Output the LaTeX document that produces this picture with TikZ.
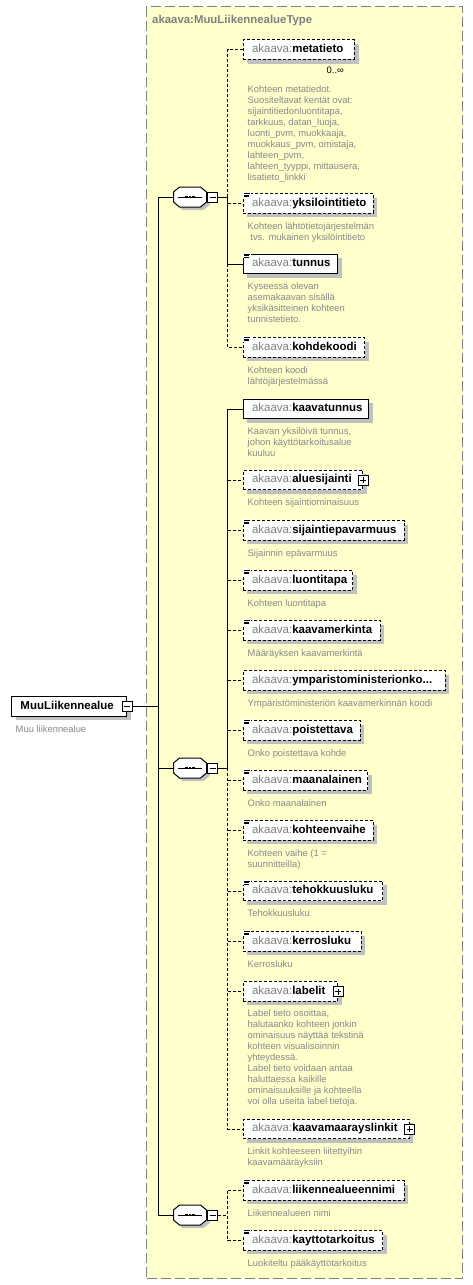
\documentclass[tikz,border=0pt]{standalone}
\usepackage{fontspec}
\setmainfont{Liberation Sans}
\usetikzlibrary{shadows,calc}
\definecolor{pfxgray}{HTML}{808080}
\definecolor{descgray}{HTML}{888888}
\definecolor{shadowgray}{HTML}{C0C0C0}
\definecolor{typefill}{HTML}{FFFFCC}
\definecolor{typeborder}{HTML}{808080}
\newcommand\elt[2]{\makebox[#1pt][l]{\hspace{9pt}\rule[-3pt]{0pt}{11pt}\textcolor{pfxgray}{akaava:}\textbf{#2}}}
\newcommand\docicon[1]{%
  \fill[white] ($(#1.north west)+(-0.6,-1)$) rectangle ($(#1.north west)+(8,4.6)$);
  \draw[line width=0.8pt] ($(#1.north west)+(1.5,0.4)$) -- ++(6,0);
  \draw[line width=0.8pt] ($(#1.north west)+(1.5,1.9)$) -- ++(5,0);
  \draw[line width=0.8pt] ($(#1.north west)+(1.5,3.4)$) -- ++(5,0);
}
\tikzset{
  elembase/.style={rectangle, inner sep=0pt, minimum height=19.5pt, anchor=west, fill=white,
    line width=1pt, font=\fontsize{11.5}{13}\selectfont,
    drop shadow={shadow xshift=4pt, shadow yshift=-4pt, fill=shadowgray, opacity=1}},
  reqbox/.style={elembase, draw=black},
  optbox/.style={elembase, draw=black, dash pattern=on 3pt off 2pt},
  desc/.style={anchor=north west, inner sep=0pt, align=left, text=descgray,
    font=\fontsize{9.4}{11}\selectfont},
  conn/.style={line width=1pt},
  optconn/.style={line width=1pt, dash pattern=on 3pt off 2pt},
  seqanchor/.style={rectangle, inner sep=0pt, minimum width=33pt, minimum height=20pt},
  seqoct/.pic={
    \fill[shadowgray] (-13.5,-2) -- (-7.5,-7) -- (13.5,-7) -- (19.5,-2) -- (19.5,8) -- (13.5,13) -- (-7.5,13) -- (-13.5,8) -- cycle;
    \draw[line width=1pt, fill=white] (-16.5,-5) -- (-10.5,-10) -- (10.5,-10) -- (16.5,-5) -- (16.5,5) -- (10.5,10) -- (-10.5,10) -- (-16.5,5) -- cycle;
    \draw[line width=1pt] (-11.7,0) -- (11.7,0);
    \fill (-4.7,-1.3) rectangle (-2.3,1.3);
    \fill (-1.2,-1.3) rectangle (1.2,1.3);
    \fill (2.3,-1.3) rectangle (4.7,1.3);
  },
  minusbox/.style={rectangle, draw=black, fill=white, line width=1pt, minimum size=10pt, inner sep=0pt, solid,
    path picture={\draw[line width=1pt] ([xshift=2pt]path picture bounding box.west) -- ([xshift=-2pt]path picture bounding box.east);}},
  plusbox/.style={rectangle, draw=black, fill=white, line width=1pt, minimum size=10pt, inner sep=0pt, solid,
    path picture={\draw[line width=1pt] ([xshift=2pt]path picture bounding box.west) -- ([xshift=-2pt]path picture bounding box.east);
      \draw[line width=1pt] ([yshift=-2pt]path picture bounding box.north) -- ([yshift=2pt]path picture bounding box.south);}},
  typebox/.style={rectangle, anchor=north west, inner sep=0pt, fill=typefill, draw=typeborder,
    line width=1.2pt, dash pattern=on 10pt off 4pt},
}
\begin{document}
\begin{tikzpicture}[x=1pt,y=-1pt]
\useasboundingbox (0,0) rectangle (472,1285);
\fill[white] (0,0) rectangle (472,1285);

% type container
\node[typebox, minimum width=316pt, minimum height=1272pt] (type) at (146,6) {};
\node[anchor=base west, inner sep=0pt, text=pfxgray, font=\fontsize{11.4}{13}\selectfont\bfseries] (title) at (152,23) {akaava:MuuLiikennealueType};

% root
\node[reqbox] (root) at (11,706.5) {\makebox[115pt][l]{\hspace{9pt}\rule[-3pt]{0pt}{11pt}\textbf{MuuLiikennealue}}};
\node[minusbox] (rm) at (root.east) {};
\node[desc] (rootdesc) at (15.5,724.5) {\rule{0pt}{8pt}Muu liikennealue};

% sequences
\node[seqanchor] (s1) at (190,197) {};
\pic at (s1) {seqoct};
\node[minusbox] (m1) at (212.7,197) {};
\node[seqanchor] (s2) at (190,768) {};
\pic at (s2) {seqoct};
\node[minusbox] (m2) at (212.7,768) {};
\node[seqanchor] (s3) at (190,1215) {};
\pic at (s3) {seqoct};
\node[minusbox] (m3) at (212.7,1215) {};

\coordinate (mx) at (158.5,706.5);
\coordinate (j1) at (227.5,197);
\coordinate (j2) at (227.5,768);
\coordinate (j3) at (227.5,1215);

% elements group 1
\node[optbox, drop shadow={shadow xshift=5pt, shadow yshift=-5pt, fill=shadowgray, opacity=1}] (metatieto) at (242.5,49.5) {\elt{111}{metatieto}};
\node[anchor=base west, inner sep=0pt, font=\fontsize{9.4}{11}\selectfont] (mult) at (326.5,73) {0..∞};
\node[desc] (dmeta) at (247.5,83.8) {\rule{0pt}{8pt}Kohteen metatiedot.\\Suositeltavat kentät ovat:\\sijaintitiedonluontitapa,\\tarkkuus, datan\_luoja,\\luonti\_pvm, muokkaaja,\\muokkaus\_pvm, omistaja,\\lahteen\_pvm,\\lahteen\_tyyppi, mittausera,\\lisatieto\_linkki};

\node[optbox] (yksi) at (242.5,203.5) {\elt{130}{yksilointitieto}};
\node[desc] (dyksi) at (247.5,221) {\rule{0pt}{8pt}Kohteen lähtötietojärjestelmän\\\hspace*{2.7pt}tvs. mukainen yksilöintitieto};

\node[reqbox] (tunnus) at (242.5,264) {\elt{94.5}{tunnus}};
\node[desc] (dtunnus) at (247.5,281.5) {\rule{0pt}{8pt}Kyseessä olevan\\asemakaavan sisällä\\yksikäsitteinen kohteen\\tunnistetieto.};

\node[optbox] (kohde) at (242.5,347.5) {\elt{121.5}{kohdekoodi}};
\node[desc] (dkohde) at (247.5,365) {\rule{0pt}{8pt}Kohteen koodi\\lähtöjärjestelmässä};

% group 2
\node[reqbox] (kaavat) at (242.5,409) {\elt{125.5}{kaavatunnus}};
\node[desc] (dkaavat) at (247.5,426.5) {\rule{0pt}{8pt}Kaavan yksilöivä tunnus,\\johon käyttötarkoitusalue\\kuuluu};

\node[optbox] (alue) at (242.5,480) {\elt{119.5}{aluesijainti}};
\node[plusbox] (palue) at (alue.east) {};
\node[desc] (dalue) at (247.5,497.5) {\rule{0pt}{8pt}Kohteen sijaintiominaisuus};

\node[optbox] (sijep) at (242.5,530.5) {\elt{161}{sijaintiepavarmuus}};
\node[desc] (dsijep) at (247.5,548) {\rule{0pt}{8pt}Sijainnin epävarmuus};

\node[optbox] (luonti) at (242.5,580.5) {\elt{109.5}{luontitapa}};
\node[desc] (dluonti) at (247.5,598) {\rule{0pt}{8pt}Kohteen luontitapa};

\node[optbox] (kmerk) at (242.5,630.5) {\elt{137}{kaavamerkinta}};
\node[desc] (dkmerk) at (247.5,648) {\rule{0pt}{8pt}Määräyksen kaavamerkintä};

\node[optbox] (ymp) at (242.5,680.5) {\elt{202}{ymparistoministerionko...}};
\node[desc] (dymp) at (247.5,698) {\rule{0pt}{8pt}Ympäristöministeriön kaavamerkinnän koodi};

\node[optbox] (poist) at (242.5,730.5) {\elt{117}{poistettava}};
\node[desc] (dpoist) at (247.5,748) {\rule{0pt}{8pt}Onko poistettava kohde};

\node[optbox] (maan) at (242.5,780.5) {\elt{124.5}{maanalainen}};
\node[desc] (dmaan) at (247.5,798) {\rule{0pt}{8pt}Onko maanalainen};

\node[optbox] (kvaihe) at (242.5,830.5) {\elt{130}{kohteenvaihe}};
\node[desc] (dkvaihe) at (247.5,848) {\rule{0pt}{8pt}Kohteen vaihe (1 =\\suunnitteilla)};

\node[optbox] (teho) at (242.5,891) {\elt{139.5}{tehokkuusluku}};
\node[desc] (dteho) at (247.5,908.5) {\rule{0pt}{8pt}Tehokkuusluku};

\node[optbox] (kerros) at (242.5,941.5) {\elt{118}{kerrosluku}};
\node[desc] (dkerros) at (247.5,959) {\rule{0pt}{8pt}Kerrosluku};

\node[optbox] (label) at (242.5,991.5) {\elt{94.5}{labelit}};
\node[plusbox] (plabel) at (label.east) {};
\node[desc] (dlabel) at (247.5,1008.5) {\rule{0pt}{8pt}Label tieto osoittaa,\\halutaanko kohteen jonkin\\ominaisuus näyttää tekstinä\\kohteen visualisoinnin\\yhteydessä.\\Label tieto voidaan antaa\\haluttaessa kaikille\\ominaisuuksille ja kohteella\\voi olla useita label tietoja.};

\node[optbox] (kmlink) at (242.5,1129) {\elt{166}{kaavamaarayslinkit}};
\node[plusbox] (pkmlink) at (kmlink.east) {};
\node[desc] (dkmlink) at (247.5,1146.5) {\rule{0pt}{8pt}Linkit kohteeseen liitettyihin\\kaavamääräyksiin};

% group 3
\node[optbox] (lnimi) at (242.5,1190.5) {\elt{161}{liikennealueennimi}};
\node[desc] (dlnimi) at (247.5,1208) {\rule{0pt}{8pt}Liikennealueen nimi};

\node[optbox] (kaytto) at (242.5,1240.5) {\elt{139.5}{kayttotarkoitus}};
\node[desc] (dkaytto) at (247.5,1258) {\rule{0pt}{8pt}Luokiteltu pääkäyttötarkoitus};

% doc icons
\foreach \n in {yksi,tunnus,kohde,sijep,luonti,kmerk,poist,maan,kvaihe,teho,kerros,lnimi,kaytto}{\docicon{\n}}

% main connectors
\draw[conn] (rm.east) -- (mx);
\draw[conn] (s1.west) -- (s1.west -| mx) -- (s3.west -| mx) -- (s3.west);
\draw[conn] (s2.west) -- (s2.west -| mx);

% group 1 connectors
\draw[conn] (m1.east) -- (j1);
\draw[optconn] (j1) -- (j1 |- metatieto.west) -- (metatieto.west);
\draw[optconn] (j1 |- yksi.west) -- (yksi.west);
\draw[conn] (j1) -- (j1 |- tunnus.west) -- (tunnus.west);
\draw[optconn] (j1 |- tunnus.west) -- (j1 |- kohde.west) -- (kohde.west);

% group 2 connectors
\draw[conn] (m2.east) -- (j2);
\draw[conn] (j2) -- (j2 |- kaavat.west) -- (kaavat.west);
\draw[optconn] (j2) -- (j2 |- kmlink.west) -- (kmlink.west);
\foreach \n in {alue,sijep,luonti,kmerk,ymp,poist,maan,kvaihe,teho,kerros,label}{
  \draw[optconn] (j2 |- \n.west) -- (\n.west);
}

% group 3 connectors
\draw[optconn] (m3.east) -- (j3);
\draw[optconn] (j3 |- lnimi.west) -- (j3 |- kaytto.west) -- (kaytto.west);
\draw[optconn] (j3 |- lnimi.west) -- (lnimi.west);
\end{tikzpicture}
\end{document}
